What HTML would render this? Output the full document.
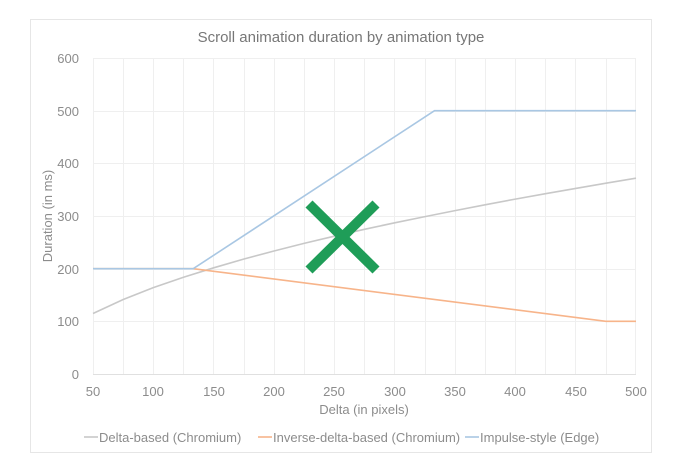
<!DOCTYPE html>
<html><head><style>body{margin:0;background:#fff}svg{display:block;font-family:"Liberation Sans",sans-serif}</style></head><body>
<svg width="674" height="470" xmlns="http://www.w3.org/2000/svg">
<rect x="0" y="0" width="674" height="470" fill="#fff"/>
<rect x="30.5" y="19.5" width="621" height="433" fill="none" stroke="#e6e6e6"/>
<text x="341" y="42" text-anchor="middle" font-size="15" fill="#777">Scroll animation duration by animation type</text>
<g stroke="#efefef" stroke-width="1">
<line x1="93" y1="58.5" x2="636" y2="58.5"/><line x1="93" y1="111.5" x2="636" y2="111.5"/><line x1="93" y1="163.5" x2="636" y2="163.5"/><line x1="93" y1="216.5" x2="636" y2="216.5"/><line x1="93" y1="269.5" x2="636" y2="269.5"/><line x1="93" y1="321.5" x2="636" y2="321.5"/>
<line x1="93.5" y1="58" x2="93.5" y2="374"/><line x1="123.5" y1="58" x2="123.5" y2="374"/><line x1="153.5" y1="58" x2="153.5" y2="374"/><line x1="183.5" y1="58" x2="183.5" y2="374"/><line x1="213.5" y1="58" x2="213.5" y2="374"/><line x1="244.5" y1="58" x2="244.5" y2="374"/><line x1="274.5" y1="58" x2="274.5" y2="374"/><line x1="304.5" y1="58" x2="304.5" y2="374"/><line x1="334.5" y1="58" x2="334.5" y2="374"/><line x1="364.5" y1="58" x2="364.5" y2="374"/><line x1="394.5" y1="58" x2="394.5" y2="374"/><line x1="425.5" y1="58" x2="425.5" y2="374"/><line x1="455.5" y1="58" x2="455.5" y2="374"/><line x1="485.5" y1="58" x2="485.5" y2="374"/><line x1="515.5" y1="58" x2="515.5" y2="374"/><line x1="545.5" y1="58" x2="545.5" y2="374"/><line x1="575.5" y1="58" x2="575.5" y2="374"/><line x1="606.5" y1="58" x2="606.5" y2="374"/><line x1="635.5" y1="58" x2="635.5" y2="374"/>
</g>
<line x1="93" y1="374.5" x2="636" y2="374.5" stroke="#e0e0e0"/>
<g font-size="13" fill="#8c8c8c" text-anchor="end">
<text x="79" y="63">600</text><text x="79" y="116">500</text><text x="79" y="168">400</text><text x="79" y="221">300</text><text x="79" y="274">200</text><text x="79" y="326">100</text><text x="79" y="379">0</text>
</g>
<g font-size="13" fill="#8c8c8c" text-anchor="middle">
<text x="93" y="396">50</text><text x="153" y="396">100</text><text x="214" y="396">150</text><text x="274" y="396">200</text><text x="334" y="396">250</text><text x="395" y="396">300</text><text x="455" y="396">350</text><text x="515" y="396">400</text><text x="576" y="396">450</text><text x="636" y="396">500</text>
<text x="364" y="414">Delta (in pixels)</text>
</g>
<text transform="translate(52,216) rotate(-90)" font-size="13" fill="#8c8c8c" text-anchor="middle">Duration (in ms)</text>
<g fill="none" stroke-width="1.6">
<polyline stroke="#c8c8c8" points="93,313.5 123.2,299.5 153.3,287.6 183.5,277.2 213.7,267.8 244,259 274,251 304,243.4 334.3,236.2 364.5,229.3 394.7,222.8 425,216.6 455,210.6 485,204.8 515.3,199.1 545.5,193.7 575.7,188.4 606,183.2 636,178.2"/>
<polyline stroke="#f7b48a" points="93,268.7 193.2,268.7 605.8,321.3 636,321.3"/>
<polyline stroke="#a9c7e3" points="93,268.7 193.2,268.7 434.5,110.7 636,110.7"/>
</g>
<g font-size="13" fill="#8c8c8c">
<line x1="84" y1="437" x2="98" y2="437" stroke="#c8c8c8" stroke-width="1.6"/><text x="99" y="442">Delta-based (Chromium)</text>
<line x1="258" y1="437" x2="272" y2="437" stroke="#f7b48a" stroke-width="1.6"/><text x="273" y="442">Inverse-delta-based (Chromium)</text>
<line x1="465" y1="437" x2="479" y2="437" stroke="#a9c7e3" stroke-width="1.6"/><text x="480" y="442">Impulse-style (Edge)</text>
</g>
<g stroke="#1f9d58" stroke-width="10">
<line x1="309" y1="204" x2="376" y2="270"/><line x1="376" y1="204" x2="309" y2="270"/>
</g>
</svg>
</body></html>
